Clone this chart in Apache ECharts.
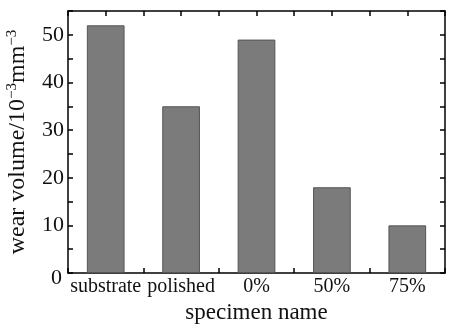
<!DOCTYPE html>
<html>
<head>
<meta charset="utf-8">
<script src="https://cdn.jsdelivr.net/npm/echarts@6/dist/echarts.min.js"></script>
<style>
  html, body { margin: 0; padding: 0; background: #fff; }
  #chart { width: 475px; height: 325px; }
</style>
</head>
<body>
<div id="chart"></div>
<script>
// 数据
const categories = ['substrate', 'polished', '0%', '50%', '75%']
const wearVolume = [52, 35, 49, 18, 10]
const yTicks = { min: 0, max: 55, interval: 10 }

const font = 'Liberation Serif'
const chart = echarts.init(document.getElementById('chart'))

const tickCommon = { show: true, inside: true, length: 5, lineStyle: { color: '#000', width: 1.5 } }
const lineCommon = { show: true, lineStyle: { color: '#000', width: 1.5 } }

chart.setOption({
  animation: false,
  grid: { left: 68, right: 30, top: 11, bottom: 52, outerBoundsMode: 'none', containLabel: false },
  xAxis: [
    {
      type: 'category',
      data: categories,
      position: 'bottom',
      axisLine: lineCommon,
      axisTick: Object.assign({}, tickCommon, { alignWithLabel: true }),
      axisLabel: { color: '#111', fontFamily: font, fontSize: 20, margin: 4, interval: 0 },
      name: 'specimen name',
      nameLocation: 'middle',
      nameGap: 25,
      nameTextStyle: { color: '#111', fontFamily: font, fontSize: 23 }
    },
    {
      type: 'category',
      data: categories,
      position: 'bottom',
      axisLine: { show: false },
      axisTick: tickCommon,
      axisLabel: { show: false }
    },
    {
      type: 'category',
      data: categories,
      position: 'top',
      axisLine: lineCommon,
      axisTick: Object.assign({}, tickCommon, { alignWithLabel: true }),
      axisLabel: { show: false }
    },
    {
      type: 'category',
      data: categories,
      position: 'top',
      axisLine: { show: false },
      axisTick: tickCommon,
      axisLabel: { show: false }
    }
  ],
  yAxis: [
    {
      type: 'value',
      min: yTicks.min,
      max: yTicks.max,
      interval: yTicks.interval,
      position: 'left',
      axisLine: lineCommon,
      axisTick: tickCommon,
      minorTick: { show: true, splitNumber: 2, length: 5, lineStyle: { color: '#000', width: 1.5 } },
      splitLine: { show: false },
      axisLabel: {
        color: '#111', fontFamily: font, fontSize: 22, margin: 4, showMaxLabel: false,
        formatter: v => (v === 0 ? '{z|0}' : String(v)),
        rich: { z: { color: '#111', fontFamily: font, fontSize: 22, padding: [10, 2, 0, 0] } }
      },
      name: '{n|wear volume/10}{s|−3}{n|mm}{s|−3}',
      nameLocation: 'middle',
      nameGap: 37,
      nameRotate: 90,
      nameTextStyle: {
        rich: {
          n: { color: '#111', fontFamily: font, fontSize: 24 },
          s: { color: '#111', fontFamily: font, fontSize: 15, verticalAlign: 'top', padding: [0, 0, 11, 0] }
        }
      }
    },
    {
      type: 'value',
      min: yTicks.min,
      max: yTicks.max,
      interval: yTicks.interval,
      position: 'right',
      axisLine: lineCommon,
      axisTick: tickCommon,
      minorTick: { show: true, splitNumber: 2, length: 5, lineStyle: { color: '#000', width: 1.5 } },
      splitLine: { show: false },
      axisLabel: { show: false }
    }
  ],
  series: [{
    type: 'bar',
    data: wearVolume,
    barWidth: '50%',
    itemStyle: { color: '#7b7b7b', borderColor: '#555', borderWidth: 1 }
  }]
})
</script>
</body>
</html>
